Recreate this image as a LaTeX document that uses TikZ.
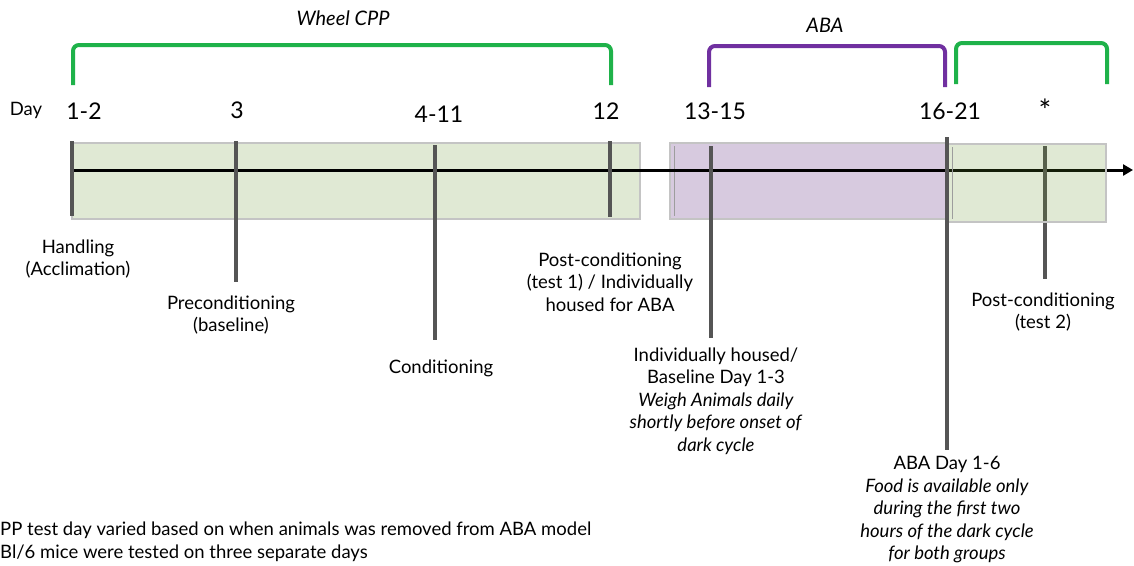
\documentclass[tikz,border=0pt]{standalone}
\usepackage{fontspec}
\setmainfont{Lato}
\usepackage{xcolor}
\usepackage{tikz}
\usetikzlibrary{arrows.meta,positioning}
\definecolor{cppgreen}{HTML}{1FB24A}
\definecolor{abapurple}{HTML}{7030A0}
\definecolor{cppfill}{HTML}{E0E9D4}
\definecolor{cppglass}{HTML}{649128}
\definecolor{abafill}{HTML}{D7CADF}
\definecolor{boxline}{HTML}{C4C4C4}
\definecolor{tickgray}{HTML}{555555}

\begin{document}
\begin{tikzpicture}[
  x=1pt, y=-1pt,
  phase/.style={draw=boxline, line width=1.4pt},
  tickline/.style={draw=tickgray, line width=4pt},
  bracket/.style={line width=4pt, rounded corners=6pt},
  daynum/.style={inner sep=0pt, font=\fontsize{23}{26}\selectfont},
  event/.style={inner sep=0pt, align=center, font=\fontsize{18.5}{22.5}\selectfont},
  title/.style={inner sep=0pt, font=\fontsize{20}{23}\selectfont\itshape}
]
  \useasboundingbox (0,0) rectangle (1134,565);

  % phase boxes
  \draw[phase, fill=cppfill] (72,143) rectangle (640,219);
  \draw[phase, fill=abafill] (670,143) rectangle (946,219);
  \draw[boxline!80!black, line width=1pt] (674,146) -- (674,216);

  % time axis
  \coordinate (start) at (72,170);
  \coordinate (stop) at (1133,170);
  \draw[line width=3pt, -{Triangle[length=10pt,width=11pt]}] (start) -- (stop);

  % day ticks
  \draw[tickline] (72,141) -- (72,216);
  \draw[tickline] (236,141) -- (236,282);
  \draw[tickline] (435,145) -- (435,340);
  \draw[tickline] (610,141) -- (610,217);
  \draw[tickline] (711,146) -- (711,338);
  \draw[tickline] (1045,146) -- (1045,279);

  % last box sits over the axis
  \draw[phase, fill=cppglass, fill opacity=0.2] (948,144) rectangle (1106,222);
  \draw[boxline!80!black, line width=1pt] (952,147) -- (952,219);
  \draw[tickline] (947,137) -- (947,450);

  % brackets
  \draw[bracket, cppgreen] (73,85) -- (73,45) -- (611,45) -- (611,85);
  \draw[bracket, abapurple] (709,87) -- (709,46) -- (945,46) -- (945,87);
  \draw[bracket, cppgreen] (956,84) -- (956,43) -- (1107,43) -- (1107,84);
  \node[title] (wheel) at (343,18) {Wheel CPP};
  \node[title] (aba) at (825,25) {ABA};

  % day labels
  \node[inner sep=0pt, font=\fontsize{18.5}{22}\selectfont] (day) at (26,110) {Day};
  \node[daynum] (d1) at (84,111) {1-2};
  \node[daynum] (d3) at (237,110) {3};
  \node[daynum] (d4) at (439,114) {4-11};
  \node[daynum] (d12) at (606,111) {12};
  \node[daynum] (d13) at (715,111) {13-15};
  \node[daynum] (d16) at (950,111) {16-21};
  \node[inner sep=0pt, font=\fontsize{30}{30}\selectfont] (dstar) at (1045,110) {*};

  % events
  \node[event] (handling) at (78,259) {Handling\\(Acclimation)};
  \node[event] (precond) at (231,315) {Preconditioning\\(baseline)};
  \node[event] (cond) at (441,368) {Conditioning};
  \node[event] (post1) at (610,282) {Post-conditioning\\(test 1) / Individually\\housed for ABA};
  \node[event] (house) at (716,401) {Individually housed/\\Baseline Day 1-3\\\textit{Weigh Animals daily}\\\textit{shortly before onset of}\\\textit{dark cycle}};
  \node[event] (abaday) at (947,510) {ABA Day 1-6\\\textit{Food is available only}\\\textit{during the first two}\\\textit{hours of the dark cycle}\\\textit{for both groups}};
  \node[event] (post2) at (1043,312) {Post-conditioning\\(test 2)};

  % footnote
  \node[event, align=left, anchor=west] (note) at (0,542) {PP test day varied based on when animals was removed from ABA model\\Bl/6 mice were tested on three separate days};
\end{tikzpicture}
\end{document}
